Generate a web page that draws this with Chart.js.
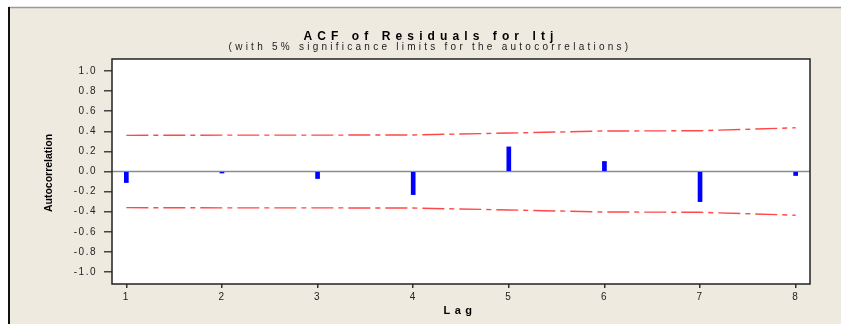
<!DOCTYPE html>
<html>
<head>
<meta charset="utf-8">
<script src="https://cdn.jsdelivr.net/npm/chart.js@4.4.1/dist/chart.umd.min.js"></script>
<style>
  html, body { margin: 0; padding: 0; background: #fff; }
  canvas { display: block; }
</style>
</head>
<body>
<canvas id="acfChart" width="841" height="324"></canvas>
<script>
// lags and autocorrelations
var lags = [1, 2, 3, 4, 5, 6, 7, 8];
var acf = [-0.11, -0.015, -0.07, -0.23, 0.245, 0.10, -0.30, -0.04];
// 5% significance limits
var upperLimit = [0.36, 0.362, 0.362, 0.364, 0.383, 0.403, 0.406, 0.435];
var lowerLimit = [-0.36, -0.362, -0.362, -0.364, -0.383, -0.403, -0.406, -0.435];
var yTicks = [-1.0, -0.8, -0.6, -0.4, -0.2, 0.0, 0.2, 0.4, 0.6, 0.8, 1.0];

var titleText = "ACF of Residuals for ltj";
var subtitleText = "(with 5% significance limits for the autocorrelations)";
var xTitle = "Lag";
var yTitle = "Autocorrelation";

function pts(ys) {
  return lags.map(function (l, i) { return { x: l, y: ys[i] }; });
}

// frame, white plot area, zero line, texts
const minitabFrame = {
  id: "minitabFrame",
  beforeDraw(chart) {
    const ctx = chart.ctx;
    const a = chart.chartArea;
    ctx.save();
    ctx.fillStyle = "#ffffff";
    ctx.fillRect(0, 0, chart.width, chart.height);
    ctx.fillStyle = "#EEEAE0";
    ctx.fillRect(8, 7, chart.width - 8, chart.height - 7);
    ctx.strokeStyle = "#9a9a9a";
    ctx.lineWidth = 1.5;
    ctx.beginPath();
    ctx.moveTo(8, 7.5);
    ctx.lineTo(chart.width, 7.5);
    ctx.stroke();
    ctx.strokeStyle = "#111";
    ctx.lineWidth = 2;
    ctx.beginPath();
    ctx.moveTo(9, 7);
    ctx.lineTo(9, chart.height);
    ctx.stroke();
    ctx.fillStyle = "#ffffff";
    ctx.fillRect(a.left, a.top, a.right - a.left, a.bottom - a.top);
    ctx.restore();
    ctx.letterSpacing = "1.5px";
  },
  beforeDatasetsDraw(chart) {
    const ctx = chart.ctx;
    const a = chart.chartArea;
    const y0 = chart.scales.y.getPixelForValue(0);
    ctx.save();
    ctx.strokeStyle = "#8c8c8c";
    ctx.lineWidth = 1.5;
    ctx.beginPath();
    ctx.moveTo(a.left, y0);
    ctx.lineTo(a.right, y0);
    ctx.stroke();
    ctx.restore();
  },
  afterDraw(chart) {
    const ctx = chart.ctx;
    const a = chart.chartArea;
    ctx.save();
    ctx.strokeStyle = "#222";
    ctx.lineWidth = 1.5;
    ctx.strokeRect(a.left, a.top, a.right - a.left, a.bottom - a.top);

    ctx.fillStyle = "#000";
    ctx.textAlign = "center";
    ctx.textBaseline = "middle";
    ctx.font = "bold 12px 'Liberation Sans', Arial, sans-serif";
    ctx.letterSpacing = "5.1px";
    ctx.fillText(titleText, 431, 37);
    ctx.font = "10px 'Liberation Sans', Arial, sans-serif";
    ctx.letterSpacing = "3.25px";
    ctx.fillStyle = "#222";
    ctx.fillText(subtitleText, 430, 47);

    ctx.fillStyle = "#000";
    ctx.font = "bold 11px 'Liberation Sans', Arial, sans-serif";
    ctx.letterSpacing = "4.5px";
    ctx.fillText(xTitle, 460, 311);

    ctx.letterSpacing = "0px";
    ctx.font = "bold 10.5px 'Liberation Sans', Arial, sans-serif";
    ctx.translate(49, 173);
    ctx.rotate(-Math.PI / 2);
    ctx.fillText(yTitle, 0, 0);
    ctx.restore();
  }
};

const config = {
  type: "bar",
  data: {
    datasets: [
      {
        type: "line",
        label: "upper",
        data: pts(upperLimit),
        borderColor: "#ff4848",
        borderWidth: 1.4,
        borderDash: [22, 5, 5, 5],
        pointRadius: 0,
        tension: 0,
        fill: false,
      },
      {
        type: "line",
        label: "lower",
        data: pts(lowerLimit),
        borderColor: "#ff4848",
        borderWidth: 1.4,
        borderDash: [22, 5, 5, 5],
        pointRadius: 0,
        tension: 0,
        fill: false,
      },
      {
        type: "bar",
        label: "ACF",
        data: pts(acf),
        backgroundColor: "#0000ff",
        borderWidth: 0,
        barThickness: 4,
      },
    ],
  },
  options: {
    responsive: false,
    animation: false,
    devicePixelRatio: 1,
    layout: { padding: { left: 0, top: 59, right: 31, bottom: 0 } },
    plugins: {
      legend: { display: false },
      tooltip: { enabled: false },
      title: { display: false },
    },
    scales: {
      x: {
        type: "linear",
        min: 0.85,
        max: 8.15,
        offset: false,
        afterBuildTicks(scale) {
          scale.ticks = lags.map(function (v) { return { value: v }; });
        },
        afterFit(scale) {
          scale.height = 40;
        },
        grid: {
          offset: false,
          drawOnChartArea: false,
          drawTicks: true,
          tickLength: 4,
          color: "#333",
          lineWidth: 1.5,
        },
        border: { display: false },
        ticks: {
          padding: 3,
          color: "#222",
          font: { family: "'Liberation Sans', Arial, sans-serif", size: 10 },
          callback: function (v) { return String(v); },
        },
      },
      y: {
        type: "linear",
        min: -1.12,
        max: 1.12,
        afterBuildTicks(scale) {
          scale.ticks = yTicks.map(function (v) { return { value: v }; });
        },
        afterFit(scale) {
          scale.width = 112;
        },
        grid: {
          drawOnChartArea: false,
          drawTicks: true,
          tickLength: 8,
          color: "#444",
          lineWidth: 1.5,
        },
        border: { display: false },
        ticks: {
          padding: 7,
          color: "#222",
          font: { family: "'Liberation Sans', Arial, sans-serif", size: 10 },
          callback: function (v) { return v.toFixed(1); },
        },
      },
    },
  },
  plugins: [minitabFrame],
};

var chart = new Chart(document.getElementById("acfChart"), config);
</script>
</body>
</html>
